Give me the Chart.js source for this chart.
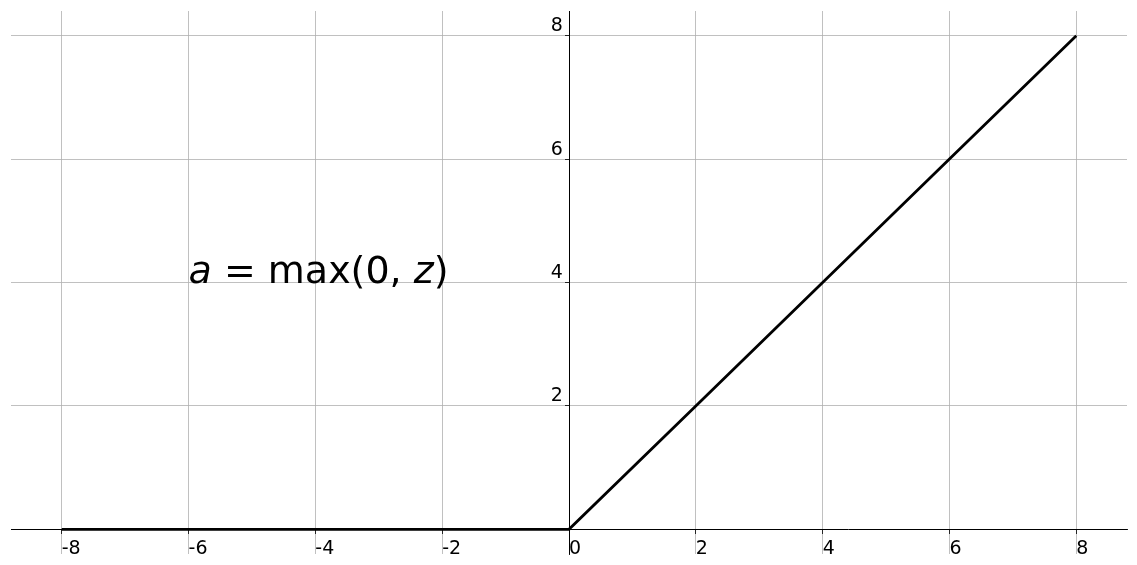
<!DOCTYPE html>
<html>
<head>
<meta charset="utf-8">
<script src="https://cdn.jsdelivr.net/npm/chart.js@4.4.0/dist/chart.umd.min.js"></script>
<style>
    html, body { margin: 0; padding: 0; background: #fff; }
    #wrap { width: 1137px; height: 565px; }
</style>
</head>
<body>
<div id="wrap"><canvas id="relu"></canvas></div>
<script>
// ReLU curve sampled at the tick positions
const zValues = [-8, -6, -4, -2, 0, 2, 4, 6, 8];
const aValues = [0, 0, 0, 0, 0, 2, 4, 6, 8];
const xTicks = [-8, -6, -4, -2, 0, 2, 4, 6, 8];
const yTicks = [2, 4, 6, 8];
const xRange = [-8.8, 8.8];
const yRange = [-0.4, 8.4];

const formula = [
    { text: 'a', italic: true },
    { text: ' = ', italic: false },
    { text: 'max(0,', italic: false },
    { text: ' ', italic: false },
    { text: 'z', italic: true },
    { text: ')', italic: false }
];

// draws "a = max(0, z)" anchored at data point (-6, 4)
const formulaPlugin = {
    id: 'formula',
    afterDatasetsDraw(chart) {
        const ctx = chart.ctx;
        let x = chart.scales.x.getPixelForValue(-6);
        const y = chart.scales.y.getPixelForValue(4);
        ctx.save();
        ctx.fillStyle = '#000';
        ctx.textBaseline = 'alphabetic';
        formula.forEach(part => {
            ctx.font = (part.italic ? 'oblique ' : '') + '38px "DejaVu Sans"';
            ctx.fillText(part.text, x, y);
            x += ctx.measureText(part.text).width;
        });
        ctx.restore();
    }
};

// axes sit inside the plot, so they should not push the plot edges in
function noPadding(scale) {
    scale.paddingTop = 0;
    scale.paddingBottom = 0;
    scale.paddingLeft = 0;
    scale.paddingRight = 0;
}

new Chart(document.getElementById('relu'), {
    type: 'line',
    data: {
        datasets: [{
            data: zValues.map((z, i) => ({ x: z, y: aValues[i] })),
            borderColor: '#000',
            borderWidth: 2.8,
            pointRadius: 0,
            tension: 0,
            fill: false
        }]
    },
    options: {
        responsive: true,
        maintainAspectRatio: false,
        animation: false,
        layout: { padding: { left: 11, right: 10, top: 11, bottom: 11 } },
        plugins: {
            legend: { display: false },
            tooltip: { enabled: false }
        },
        scales: {
            x: {
                type: 'linear',
                min: xRange[0],
                max: xRange[1],
                position: { y: 0 },
                afterBuildTicks: scale => { scale.ticks = xTicks.map(v => ({ value: v })); },
                afterFit: noPadding,
                grid: { color: '#b0b0b0', lineWidth: 0.8, tickLength: 4, tickColor: '#000' },
                border: { color: '#000', width: 1 },
                ticks: {
                    align: 'start',
                    padding: 4,
                    color: '#000',
                    font: { family: 'DejaVu Sans', size: 19 },
                    maxRotation: 0,
                    autoSkip: false
                }
            },
            y: {
                type: 'linear',
                min: yRange[0],
                max: yRange[1],
                position: { x: 0 },
                afterBuildTicks: scale => { scale.ticks = yTicks.map(v => ({ value: v })); },
                afterFit: noPadding,
                grid: { color: '#b0b0b0', lineWidth: 0.8, tickLength: 4, tickColor: '#000' },
                border: { color: '#000', width: 1 },
                ticks: {
                    align: 'end',
                    padding: 4,
                    color: '#000',
                    font: { family: 'DejaVu Sans', size: 19 },
                    autoSkip: false,
                    callback: value => value + ' '
                }
            }
        }
    },
    plugins: [formulaPlugin]
});
</script>
</body>
</html>
